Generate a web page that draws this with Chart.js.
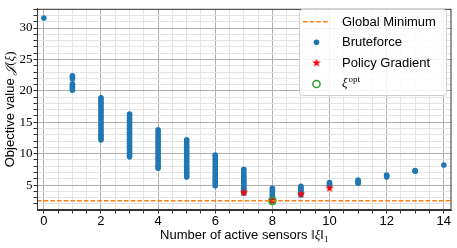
<!DOCTYPE html>
<html lang="en">
<head>
    <meta charset="UTF-8">
    <title>Objective value vs. number of active sensors</title>
    <script src="https://cdn.jsdelivr.net/npm/chart.js"></script>
    <style>
        html, body { margin: 0; padding: 0; background: #fff; }
        #wrap { width: 457px; height: 248px; }
    </style>
</head>
<body>
<div id="wrap"><canvas id="chart"></canvas></div>
<script>
    // values
    const sensorCounts = [0, 1, 2, 3, 4, 5, 6, 7, 8, 9, 10, 11, 12, 13, 14];
    const bruteforceValues = [
        [31.6],
        [22.4, 22.2, 21.9, 21.1, 20.9, 20.6, 20.4, 20.1],
        [18.9, 18.6, 18.2, 17.9, 17.5, 17.1, 16.8, 16.4, 16.0, 15.7, 15.3, 14.9, 14.6, 14.2, 13.8, 13.5, 13.1, 12.8, 12.5, 12.2],
        [16.3, 16.0, 15.6, 15.2, 14.9, 14.5, 14.1, 13.8, 13.4, 13.0, 12.7, 12.3, 11.9, 11.6, 11.2, 10.8, 10.5, 10.1, 9.8, 9.5],
        [13.8, 13.5, 13.1, 12.7, 12.4, 12.0, 11.6, 11.3, 10.9, 10.5, 10.2, 9.8, 9.4, 9.1, 8.7, 8.3, 8.0, 7.7],
        [12.2, 11.9, 11.5, 11.1, 10.8, 10.4, 10.0, 9.7, 9.3, 8.9, 8.6, 8.2, 7.8, 7.5, 7.1, 6.8, 6.5, 6.3],
        [9.8, 9.5, 9.1, 8.7, 8.4, 8.0, 7.6, 7.3, 6.9, 6.5, 6.2, 5.8, 5.5, 5.2, 4.9],
        [7.5, 7.1, 6.8, 6.5, 6.2, 5.9, 5.6, 5.3, 5.0, 4.7, 4.4, 4.1, 3.9, 3.7],
        [4.5, 4.2, 3.9, 3.6, 3.3, 3.0, 2.7, 2.5],
        [4.8, 4.5, 4.2, 3.9, 3.7, 3.45],
        [5.4, 5.2, 5.0, 4.9],
        [5.8, 5.6, 5.4, 5.3],
        [6.6, 6.5, 6.3],
        [7.3, 7.2],
        [8.2]
    ];
    const policyX = [7, 8, 9, 10];
    const policyY = [3.8, 2.5, 3.55, 4.5];
    const optX = [8];
    const optY = [2.5];
    const globalMinimum = 2.5;
    const xTickLabels = [0, 2, 4, 6, 8, 10, 12, 14];
    const yTickLabels = [5, 10, 15, 20, 25, 30];
    const xRange = [-0.24, 14.27];
    const yRange = [1.04, 33.06];

    const SANS = "'Liberation Sans', Arial, sans-serif";
    const SERIF = "'Liberation Serif', 'DejaVu Serif', serif";
    const BLUE = '#1f77b4', ORANGE = '#ff7f0e', GREEN = '#2ca02c', RED = '#ff0000';
    const MAJOR = '#b0b0b0', MINOR = '#e4e4e4', SPINE = '#333333';

    // filled five-point star used as point style
    function makeStar(r, color) {
        const c = document.createElement('canvas');
        const s = Math.ceil(r * 2 + 2);
        c.width = s; c.height = s;
        const g = c.getContext('2d');
        g.fillStyle = color;
        g.beginPath();
        for (let i = 0; i < 10; i++) {
            const rr = i % 2 ? r * 0.4 : r;
            const a = -Math.PI / 2 + i * Math.PI / 5;
            g.lineTo(s / 2 + rr * Math.cos(a), s / 2 + rr * Math.sin(a));
        }
        g.closePath();
        g.fill();
        return c;
    }
    const starImg = makeStar(4.6, RED);

    const bruteData = [];
    sensorCounts.forEach((k, i) => {
        bruteforceValues[i].forEach(v => bruteData.push({ x: k, y: v }));
    });

    function drawParts(ctx, parts, cx, baseY) {
        let total = 0;
        parts.forEach(p => { ctx.font = p.f; p.w = ctx.measureText(p.t).width; total += p.w; });
        let x = cx - total / 2;
        ctx.textAlign = 'left';
        parts.forEach(p => {
            ctx.font = p.f;
            ctx.fillText(p.t, x, baseY + p.dy);
            x += p.w;
        });
    }

    // frame, axis titles and legend drawn on the canvas
    const extras = {
        id: 'extras',
        afterDraw(chart) {
            const { ctx, chartArea: a } = chart;
            ctx.save();
            ctx.strokeStyle = SPINE;
            ctx.lineWidth = 1;
            ctx.strokeRect(a.left + 0.5, a.top + 0.5, a.right - a.left - 1, a.bottom - a.top - 1);

            ctx.fillStyle = '#000';
            ctx.textBaseline = 'alphabetic';

            // x title
            drawParts(ctx, [
                { t: 'Number of active sensors ', f: '13px ' + SANS, dy: 0 },
                { t: '\u2016', f: '13px ' + SERIF, dy: 0 },
                { t: '\u03be', f: 'italic 13px ' + SERIF, dy: 0 },
                { t: '\u2016', f: '13px ' + SERIF, dy: 0 },
                { t: '1', f: '9px ' + SERIF, dy: 2.5 }
            ], (a.left + a.right) / 2, 239);

            // y title
            ctx.save();
            ctx.translate(13.5, (a.top + a.bottom) / 2);
            ctx.rotate(-Math.PI / 2);
            drawParts(ctx, [
                { t: 'Objective value ', f: '13px ' + SANS, dy: 0 },
                { t: '\ud835\udca5', f: 'italic 13px ' + SERIF, dy: 0 },
                { t: '(', f: '13px ' + SERIF, dy: 0 },
                { t: '\u03be', f: 'italic 13px ' + SERIF, dy: 0 },
                { t: ')', f: '13px ' + SERIF, dy: 0 }
            ], 0, 0);
            ctx.restore();

            // legend
            const bx = 299, by = 9, bw = 147, bh = 86;
            ctx.beginPath();
            ctx.roundRect(bx + 0.5, by + 0.5, bw, bh, 3);
            ctx.fillStyle = 'rgba(255,255,255,0.85)';
            ctx.fill();
            ctx.strokeStyle = '#d0d0d0';
            ctx.stroke();

            const mx = 316.5, tx = 342, rows = [21.7, 42.2, 63, 84];
            ctx.strokeStyle = ORANGE;
            ctx.lineWidth = 1.5;
            ctx.setLineDash([4.5, 2.2]);
            ctx.beginPath();
            ctx.moveTo(303, rows[0]); ctx.lineTo(330, rows[0]);
            ctx.stroke();
            ctx.setLineDash([]);

            ctx.fillStyle = BLUE;
            ctx.beginPath();
            ctx.arc(mx, rows[1], 2.8, 0, Math.PI * 2);
            ctx.fill();

            ctx.drawImage(starImg, mx - starImg.width / 2, rows[2] - starImg.height / 2);

            ctx.strokeStyle = GREEN;
            ctx.lineWidth = 1.5;
            ctx.beginPath();
            ctx.arc(mx, rows[3], 3.6, 0, Math.PI * 2);
            ctx.stroke();

            ctx.fillStyle = '#000';
            ctx.textAlign = 'left';
            ctx.textBaseline = 'middle';
            ctx.font = '13px ' + SANS;
            ctx.fillText('Global Minimum', tx, rows[0] + 0.5);
            ctx.fillText('Bruteforce', tx, rows[1] + 0.5);
            ctx.fillText('Policy Gradient', tx, rows[2] + 0.5);
            ctx.textBaseline = 'alphabetic';
            ctx.font = 'italic 13px ' + SERIF;
            ctx.fillText('\u03be', tx, rows[3] + 3);
            const w = ctx.measureText('\u03be').width;
            ctx.font = '9px ' + SERIF;
            ctx.fillText('opt', tx + w + 1, rows[3] - 2);
            ctx.restore();
        }
    };

    new Chart(document.getElementById('chart'), {
        type: 'scatter',
        data: {
            datasets: [
                {
                    label: 'Global Minimum',
                    type: 'line',
                    data: [{ x: xRange[0], y: globalMinimum }, { x: xRange[1], y: globalMinimum }],
                    borderColor: ORANGE,
                    borderWidth: 1.5,
                    borderDash: [4.5, 2.2],
                    pointRadius: 0,
                    fill: false,
                    order: 0
                },
                {
                    label: 'Bruteforce',
                    data: bruteData,
                    backgroundColor: BLUE,
                    borderWidth: 0,
                    pointRadius: 2.8,
                    order: 3
                },
                {
                    label: 'Policy Gradient',
                    data: policyX.map((x, i) => ({ x: x, y: policyY[i] })),
                    pointStyle: starImg,
                    order: 2
                },
                {
                    label: '\u03beopt',
                    data: optX.map((x, i) => ({ x: x, y: optY[i] })),
                    backgroundColor: 'rgba(0,0,0,0)',
                    borderColor: GREEN,
                    borderWidth: 1.5,
                    pointRadius: 3.6,
                    order: 1
                }
            ]
        },
        options: {
            responsive: true,
            maintainAspectRatio: false,
            animation: false,
            layout: { padding: { top: 4, right: 5, left: 0, bottom: 0 } },
            plugins: { legend: { display: false }, tooltip: { enabled: false } },
            scales: {
                x: {
                    type: 'linear',
                    min: xRange[0],
                    max: xRange[1],
                    afterFit: s => { s.height = 38; },
                    ticks: {
                        stepSize: 0.5,
                        autoSkip: false,
                        includeBounds: false,
                        maxRotation: 0,
                        padding: 0,
                        color: '#000',
                        font: { family: SANS, size: 13 },
                        callback: v => xTickLabels.includes(v) ? String(v) : ''
                    },
                    grid: {
                        color: c => (c.tick && xTickLabels.includes(c.tick.value)) ? MAJOR : MINOR,
                        tickColor: SPINE,
                        tickLength: 3.5
                    },
                    border: { color: SPINE }
                },
                y: {
                    min: yRange[0],
                    max: yRange[1],
                    afterFit: s => { s.width = 37; },
                    ticks: {
                        stepSize: 1,
                        autoSkip: false,
                        includeBounds: false,
                        padding: 1,
                        color: '#000',
                        font: { family: SERIF, size: 13 },
                        callback: v => yTickLabels.includes(v) ? String(v) : ''
                    },
                    grid: {
                        color: c => (c.tick && yTickLabels.includes(c.tick.value)) ? MAJOR : MINOR,
                        tickColor: SPINE,
                        tickLength: 3.5
                    },
                    border: { color: SPINE }
                }
            }
        },
        plugins: [extras]
    });
</script>
</body>
</html>
